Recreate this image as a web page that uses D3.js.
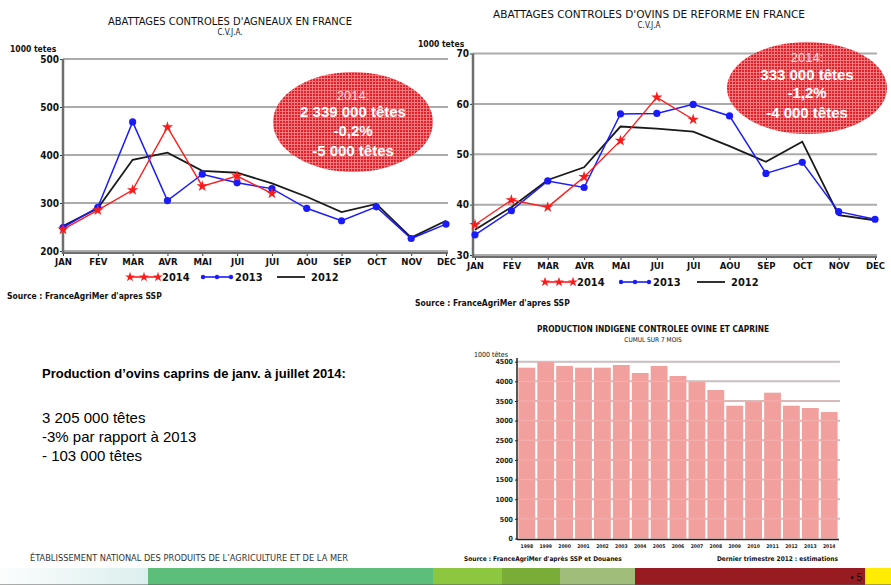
<!DOCTYPE html>
<html>
<head>
<meta charset="utf-8">
<script src="https://cdn.jsdelivr.net/npm/d3@7"></script>
<style>
  body { margin: 0; background: #fff; }
  svg text { font-family: "Liberation Sans", Arial, sans-serif; }
  svg text.narrow { font-family: "Liberation Sans Narrow", "DejaVu Sans Condensed", sans-serif; }
</style>
</head>
<body>
<svg id="chart" width="891" height="585"></svg>
<script>
// --- data -----------------------------------------------------------------
const months = ['JAN', 'FEV', 'MAR', 'AVR', 'MAI', 'JUI', 'JUI', 'AOU', 'SEP', 'OCT', 'NOV', 'DEC'];
const seriesNames = ['2014', '2013', '2012'];

// lambs, 1000 heads
const lambTicks = [200, 300, 400, 500, 600];
const lambTickLabels = ['200', '300', '400', '500', '500'];
const lamb2014 = [245, 285, 327, 458, 335, 356, 320];
const lamb2013 = [249, 291, 469, 305, 360, 342, 330, 289, 263, 292, 226, 256];
const lamb2012 = [252, 289, 390, 405, 367, 363, 341, 313, 281, 298, 228, 263];
const lambBubble = ['2014:', '2 339 000 têtes', '-0,2%', '-5 000 têtes'];

// cull ewes, 1000 heads
const eweTicks = [30, 40, 50, 60, 70];
const eweTickLabels = ['30', '40', '50', '60', '70'];
const ewe2014 = [36, 40.9, 39.5, 45.5, 52.7, 61.3, 56.9];
const ewe2013 = [34, 38.8, 44.7, 43.4, 58, 58.1, 59.9, 57.6, 46.2, 48.4, 38.6, 37.1];
const ewe2012 = [35, 39.5, 44.9, 47.4, 55.5, 55.1, 54.5, 51.6, 48.5, 52.5, 37.9, 36.9];
const eweBubble = ['2014:', '333 000 têtes', '-1,2%', '-4 000 têtes'];

// sheep + goat production, 7 months cumul
const years = ['1998', '1999', '2000', '2001', '2002', '2003', '2004', '2005', '2006',
  '2007', '2008', '2009', '2010', '2011', '2012', '2013', '2014'];
const production = [4348, 4493, 4391, 4348, 4348, 4416, 4213, 4391, 4136,
  3983, 3779, 3380, 3481, 3711, 3380, 3321, 3219];
const prodTicks = [0, 500, 1000, 1500, 2000, 2500, 3000, 3500, 4000, 4500];

const summaryTitle = 'Production d’ovins caprins de janv. à juillet 2014:';
const summaryLines = ['3 205 000 têtes', '-3% par rapport à 2013', '- 103 000 têtes'];

const colors = { s2014: '#ff1a1a', s2013: '#1a1aff', s2012: '#1a1a1a', grid: '#ababab', axis: '#6e6e6e' };

const svg = d3.select('#chart');

// crosshatch fill for the red bubbles
const pat = svg.append('defs').append('pattern')
  .attr('id', 'hatch')
  .attr('width', 3)
  .attr('height', 3)
  .attr('patternUnits', 'userSpaceOnUse');
pat.append('rect').attr('width', 3).attr('height', 3).attr('fill', '#e61e26');
pat.append('rect').attr('width', 3).attr('height', 1).attr('fill', '#f07a80');
pat.append('rect').attr('width', 1).attr('height', 3).attr('fill', '#f07a80');

const star = d3.symbol().type(d3.symbolStar);

function lineChart(opt) {
  const g = svg.append('g');

  const x = d3.scalePoint()
    .domain(d3.range(months.length))
    .range(opt.xRange);
  const y = d3.scaleLinear()
    .domain(opt.yDomain)
    .range(opt.yRange);

  // grid
  g.append('g')
    .selectAll('line')
    .data(opt.ticks)
    .enter()
    .append('line')
    .attr('x1', opt.axisX)
    .attr('x2', opt.gridEnd)
    .attr('y1', (d) => y(d))
    .attr('y2', (d) => y(d))
    .attr('stroke', colors.grid)
    .attr('stroke-width', 2);

  // axes
  const yAxis = g.append('g')
    .attr('transform', `translate(${opt.axisX},0)`)
    .call(d3.axisLeft(y)
      .tickValues(opt.ticks)
      .tickFormat((d, i) => opt.tickLabels[i])
      .tickSize(3)
      .tickPadding(1));
  yAxis.select('.domain').remove();
  yAxis.selectAll('line').attr('stroke', '#333');
  yAxis.selectAll('text')
    .attr('class', 'narrow')
    .attr('font-size', 10)
    .attr('font-weight', 'bold')
    .attr('fill', '#111');

  const baseY = y(opt.yDomain[0]) + 2;
  g.append('line')
    .attr('x1', opt.axisX)
    .attr('x2', opt.axisX)
    .attr('y1', y(opt.yDomain[1]))
    .attr('y2', baseY + 1)
    .attr('stroke', colors.axis)
    .attr('stroke-width', 2.5);

  const xAxis = g.append('g')
    .attr('transform', `translate(0,${baseY})`)
    .call(d3.axisBottom(x)
      .tickFormat((i) => months[i])
      .tickSize(3)
      .tickPadding(2));
  xAxis.select('.domain').remove();
  xAxis.selectAll('line').attr('stroke', '#333');
  xAxis.selectAll('text')
    .attr('class', 'narrow')
    .attr('font-size', 9.5)
    .attr('font-weight', 'bold')
    .attr('fill', '#111');
  g.append('line')
    .attr('x1', opt.axisX)
    .attr('x2', opt.xRange[1] + 2)
    .attr('y1', baseY)
    .attr('y2', baseY)
    .attr('stroke', colors.axis)
    .attr('stroke-width', 2);

  const line = d3.line()
    .x((d, i) => x(i))
    .y((d) => y(d));

  // 2012
  g.append('path')
    .datum(opt.s2012)
    .attr('fill', 'none')
    .attr('stroke', colors.s2012)
    .attr('stroke-width', 1.8)
    .attr('d', line);

  // 2013
  g.append('path')
    .datum(opt.s2013)
    .attr('fill', 'none')
    .attr('stroke', colors.s2013)
    .attr('stroke-width', 1.5)
    .attr('d', line);
  g.selectAll('.dot13')
    .data(opt.s2013)
    .enter()
    .append('circle')
    .attr('r', 3.6)
    .attr('fill', colors.s2013)
    .attr('cx', (d, i) => x(i))
    .attr('cy', (d) => y(d));

  // 2014
  g.append('path')
    .datum(opt.s2014)
    .attr('fill', 'none')
    .attr('stroke', colors.s2014)
    .attr('stroke-width', 1.4)
    .attr('d', line);
  g.selectAll('.star14')
    .data(opt.s2014)
    .enter()
    .append('path')
    .attr('d', star.size(40))
    .attr('fill', colors.s2014)
    .attr('transform', (d, i) => `translate(${x(i)},${y(d)})`);

  // titles
  g.append('text')
    .attr('class', 'narrow')
    .attr('x', opt.titleX)
    .attr('y', opt.titleY)
    .attr('text-anchor', 'middle')
    .attr('font-size', 11)
    .attr('textLength', opt.titleLen)
    .attr('lengthAdjust', 'spacingAndGlyphs')
    .attr('fill', '#111')
    .text(opt.title);
  g.append('text')
    .attr('class', 'narrow')
    .attr('x', opt.titleX)
    .attr('y', opt.titleY + 10)
    .attr('text-anchor', 'middle')
    .attr('font-size', 8)
    .attr('fill', '#111')
    .text(opt.subtitle);
  g.append('text')
    .attr('class', 'narrow')
    .attr('x', opt.unitX)
    .attr('y', opt.unitY)
    .attr('font-size', 8.5)
    .attr('font-weight', 'bold')
    .attr('fill', '#111')
    .text('1000 tetes');

  // legend
  const legend = g.append('g')
    .attr('transform', `translate(0,${opt.legendY})`);
  const keys = [
    { name: seriesNames[0], color: colors.s2014, mark: 'star' },
    { name: seriesNames[1], color: colors.s2013, mark: 'dot' },
    { name: seriesNames[2], color: colors.s2012, mark: 'none' }
  ];
  keys.forEach((k, i) => {
    const lx = opt.legendX[i];
    legend.append('line')
      .attr('x1', lx)
      .attr('x2', lx + 28)
      .attr('stroke', k.color)
      .attr('stroke-width', k.mark === 'none' ? 1.8 : 1.6);
    [0, 14, 28].forEach((dx) => {
      if (k.mark === 'star') {
        legend.append('path')
          .attr('d', star.size(30))
          .attr('fill', k.color)
          .attr('transform', `translate(${lx + dx},0)`);
      } else if (k.mark === 'dot') {
        legend.append('circle')
          .attr('r', 2.2)
          .attr('cx', lx + dx)
          .attr('fill', k.color);
      }
    });
    legend.append('text')
      .attr('class', 'narrow')
      .attr('x', lx + (k.mark === 'none' ? 34 : 32))
      .attr('y', 4)
      .attr('font-size', 11)
      .attr('font-weight', 'bold')
      .attr('fill', '#111')
      .text(k.name);
  });

  g.append('text')
    .attr('class', 'narrow')
    .attr('x', opt.sourceX)
    .attr('y', opt.sourceY)
    .attr('font-size', 8.5)
    .attr('font-weight', 'bold')
    .attr('fill', '#111')
    .text('Source : FranceAgriMer d\'apres SSP');

  // bubble
  const b = opt.bubble;
  g.append('ellipse')
    .attr('cx', b.cx)
    .attr('cy', b.cy)
    .attr('rx', b.rx)
    .attr('ry', b.ry)
    .attr('fill', 'url(#hatch)');
  opt.bubbleText.forEach((t, i) => {
    g.append('text')
      .attr('x', b.cx)
      .attr('y', b.textY[i])
      .attr('text-anchor', 'middle')
      .attr('font-size', i === 0 ? 13 : 15)
      .attr('font-weight', i === 0 ? 'normal' : 'bold')
      .attr('fill', i === 0 ? '#f6dede' : '#fff')
      .text(t);
  });
}

lineChart({
  xRange: [63, 446], yDomain: [200, 600], yRange: [251, 59],
  ticks: lambTicks, tickLabels: lambTickLabels,
  axisX: 63, gridEnd: 448,
  s2014: lamb2014, s2013: lamb2013, s2012: lamb2012,
  title: 'ABATTAGES CONTROLES D\'AGNEAUX EN FRANCE', subtitle: 'C.V.J.A.',
  titleX: 230, titleY: 25, titleLen: 244,
  unitX: 10, unitY: 52,
  legendX: [130, 203, 277], legendY: 277,
  sourceX: 7, sourceY: 299,
  bubble: { cx: 353, cy: 122, rx: 80, ry: 50, textY: [100, 117, 136, 156] },
  bubbleText: lambBubble
});

lineChart({
  xRange: [475, 875], yDomain: [30, 70], yRange: [255, 53.5],
  ticks: eweTicks, tickLabels: eweTickLabels,
  axisX: 473, gridEnd: 877,
  s2014: ewe2014, s2013: ewe2013, s2012: ewe2012,
  title: 'ABATTAGES CONTROLES D\'OVINS DE REFORME EN FRANCE', subtitle: 'C.V.J.A',
  titleX: 649, titleY: 18, titleLen: 312,
  unitX: 418, unitY: 47,
  legendX: [545, 621, 697], legendY: 282,
  sourceX: 415, sourceY: 306,
  bubble: { cx: 807, cy: 88, rx: 80, ry: 46, textY: [62, 80, 98, 118] },
  bubbleText: eweBubble
});

// --- bar chart ------------------------------------------------------------
const bx = d3.scaleBand()
  .domain(years)
  .range([518, 838])
  .paddingInner(0.11)
  .paddingOuter(0.02);
const by = d3.scaleLinear()
  .domain([0, 4500])
  .range([538.5, 361.7]);

const bars = svg.append('g');
bars.append('g')
  .selectAll('line')
  .data(prodTicks.slice(1))
  .enter()
  .append('line')
  .attr('x1', 517)
  .attr('x2', 840)
  .attr('y1', (d) => by(d))
  .attr('y2', (d) => by(d))
  .attr('stroke', '#c2c2c2')
  .attr('stroke-width', 2);

bars.selectAll('.bar')
  .data(production)
  .enter()
  .append('rect')
  .attr('x', (d, i) => bx(years[i]))
  .attr('y', (d) => by(d))
  .attr('width', bx.bandwidth())
  .attr('height', (d) => by(0) - by(d))
  .attr('fill', '#f1a09e');

// faint grid seen through the bars
bars.append('g')
  .selectAll('line')
  .data(prodTicks.slice(1))
  .enter()
  .append('line')
  .attr('x1', 517)
  .attr('x2', 838)
  .attr('y1', (d) => by(d))
  .attr('y2', (d) => by(d))
  .attr('stroke', '#f3b1b0')
  .attr('stroke-width', 1);

const byAxis = bars.append('g')
  .attr('transform', 'translate(517,0)')
  .call(d3.axisLeft(by)
    .tickValues(prodTicks)
    .tickFormat(d3.format('d'))
    .tickSize(2)
    .tickPadding(2));
byAxis.select('.domain').remove();
byAxis.selectAll('line').attr('stroke', '#222');
byAxis.selectAll('text')
  .attr('class', 'narrow')
  .attr('font-size', 7)
  .attr('font-weight', 'bold')
  .attr('fill', '#222');
bars.append('line')
  .attr('x1', 517).attr('x2', 517)
  .attr('y1', 358).attr('y2', 540)
  .attr('stroke', '#222')
  .attr('stroke-width', 1.5);
bars.append('line')
  .attr('x1', 517).attr('x2', 839)
  .attr('y1', 539.5).attr('y2', 539.5)
  .attr('stroke', '#222')
  .attr('stroke-width', 1.5);

const bxAxis = bars.append('g')
  .attr('transform', 'translate(0,540)')
  .call(d3.axisBottom(bx).tickSize(0).tickPadding(4));
bxAxis.select('.domain').remove();
bxAxis.selectAll('text')
  .attr('class', 'narrow')
  .attr('font-size', 5)
  .attr('font-weight', 'bold')
  .attr('fill', '#222');

bars.append('text')
  .attr('class', 'narrow')
  .attr('x', 653).attr('y', 332)
  .attr('text-anchor', 'middle')
  .attr('font-size', 9.5)
  .attr('font-weight', 'bold')
  .attr('textLength', 232)
  .attr('lengthAdjust', 'spacingAndGlyphs')
  .attr('fill', '#111')
  .text('PRODUCTION INDIGENE CONTROLEE OVINE ET CAPRINE');
bars.append('text')
  .attr('class', 'narrow')
  .attr('x', 653).attr('y', 342)
  .attr('text-anchor', 'middle')
  .attr('font-size', 6.5)
  .attr('fill', '#111')
  .text('CUMUL SUR  7  MOIS');
bars.append('text')
  .attr('class', 'narrow')
  .attr('x', 474).attr('y', 357)
  .attr('font-size', 7)
  .attr('fill', '#111')
  .text('1000 têtes');
bars.append('text')
  .attr('class', 'narrow')
  .attr('x', 464).attr('y', 561)
  .attr('font-size', 6.5)
  .attr('font-weight', 'bold')
  .attr('fill', '#111')
  .text('Source : FranceAgriMer d\'après SSP et Douanes');
bars.append('text')
  .attr('class', 'narrow')
  .attr('x', 838).attr('y', 561)
  .attr('text-anchor', 'end')
  .attr('font-size', 6.5)
  .attr('font-weight', 'bold')
  .attr('fill', '#111')
  .text('Dernier trimestre 2012 : estimations');

// --- text block -----------------------------------------------------------
svg.append('text')
  .attr('x', 42).attr('y', 378)
  .attr('font-size', 13)
  .attr('font-weight', 'bold')
  .attr('fill', '#000')
  .text(summaryTitle);
summaryLines.forEach((t, i) => {
  svg.append('text')
    .attr('x', 42)
    .attr('y', 423 + i * 19)
    .attr('font-size', 15)
    .attr('fill', '#000')
    .text(t);
});

// --- footer ---------------------------------------------------------------
svg.append('text')
  .attr('class', 'narrow')
  .attr('x', 30).attr('y', 561)
  .attr('font-size', 9.5)
  .attr('textLength', 318)
  .attr('lengthAdjust', 'spacingAndGlyphs')
  .attr('fill', '#333')
  .text('ÉTABLISSEMENT NATIONAL DES PRODUITS DE L’AGRICULTURE ET DE LA MER');

const grad = svg.select('defs').append('linearGradient').attr('id', 'fade');
grad.append('stop').attr('offset', 0).attr('stop-color', '#fbfdfd');
grad.append('stop').attr('offset', 1).attr('stop-color', '#dcefee');

const strip = [
  { x0: 0, x1: 148, fill: 'url(#fade)' },
  { x0: 148, x1: 433, fill: '#5dbd7b' },
  { x0: 433, x1: 502, fill: '#8dc63f' },
  { x0: 502, x1: 560, fill: '#79ad38' },
  { x0: 560, x1: 635, fill: '#a0be79' },
  { x0: 635, x1: 865, fill: '#981b21' },
  { x0: 865, x1: 891, fill: '#ffec00' }
];
svg.append('g')
  .selectAll('rect')
  .data(strip)
  .enter()
  .append('rect')
  .attr('x', (d) => d.x0)
  .attr('y', 568)
  .attr('width', (d) => d.x1 - d.x0)
  .attr('height', 17)
  .attr('fill', (d) => d.fill);
svg.append('line')
  .attr('x1', 0).attr('x2', 891)
  .attr('y1', 584.5).attr('y2', 584.5)
  .attr('stroke', '#5a5a5a')
  .attr('stroke-opacity', 0.5);
svg.append('text')
  .attr('x', 862).attr('y', 581)
  .attr('text-anchor', 'end')
  .attr('font-size', 10)
  .attr('fill', '#111')
  .text('• 5');
</script>
</body>
</html>
